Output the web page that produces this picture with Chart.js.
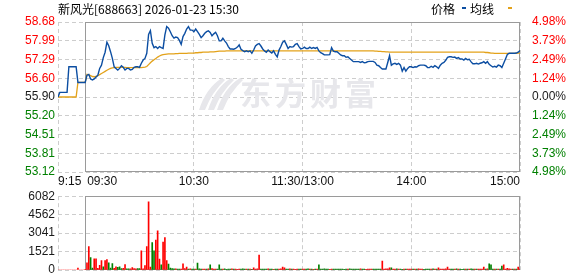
<!DOCTYPE html>
<html>
<head>
<meta charset="utf-8">
<script src="https://cdn.jsdelivr.net/npm/chart.js@4.4.1/dist/chart.umd.min.js"></script>
<style>
  body { margin: 0; background: #fff; overflow: hidden; }
  #wrap { position: relative; width: 578px; height: 276px; overflow: hidden; }
  #priceChart { position: absolute; left: 0; top: 0; }
  #volChart { position: absolute; left: 0; top: 186px; }
</style>
</head>
<body>
<div id="wrap">
  <canvas id="priceChart" width="578" height="192"></canvas>
  <canvas id="volChart" width="578" height="96"></canvas>
</div>
<script>
const title = '新风光[688663] 2026-01-23 15:30';
const legendNames = ['价格', '均线'];

// minute index: 0 = 9:15, 15 = 9:30, 135 = 11:30/13:00, 255 = 15:00
const timeTicks = [0, 15, 75, 135, 195, 255];
const timeLabels = ['9:15', '09:30', '10:30', '11:30/13:00', '14:00', '15:00'];

const priceTicks = ['58.68', '57.99', '57.29', '56.60', '55.90', '55.20', '54.51', '53.81', '53.12'];
const pctTicks = ['4.98%', '3.73%', '2.49%', '1.24%', '0.00%', '1.24%', '2.49%', '3.73%', '4.98%'];
const volTicks = ['6082', '4562', '3041', '1521', '0'];

// call auction 9:15 - 9:29
const auctionPrice = [55.90, 56.07, 56.07, 56.07, 56.07, 56.07, 57.02, 57.02, 57.02, 57.02, 57.02, 56.44, 56.44, 56.44, 56.44];
const auctionAvg = [55.90, 55.90, 55.90, 55.90, 55.90, 55.90, 55.90, 55.90, 55.90, 55.90, 55.90, 56.44, 56.44, 56.44, 56.44];
const auctionVolume = [0, 0, 0, 0, 0, 0, 0, 0, 0, 0, 0, 150, 0, 0, 0];

// 9:30 - 15:00, one value per minute
const price = [
  56.44, 56.71, 56.74, 56.57, 56.53, 56.57, 56.64, 56.71, 56.96, 57.08,
  57.36, 57.56, 57.93, 57.80, 57.58, 57.33, 57.02, 56.96, 56.90, 56.96,
  57.06, 57.00, 56.90, 56.96, 56.96, 56.90, 56.92, 57.00, 57.02, 57.02,
  57.00, 57.15, 57.27, 57.33, 57.52, 58.22, 58.36, 57.89, 57.73, 57.77,
  57.70, 57.77, 57.73, 57.70, 58.20, 58.51, 58.45, 58.32, 58.17, 58.08,
  58.12, 58.10, 58.00, 57.85, 58.14, 58.26, 58.42, 58.51, 58.38, 58.38,
  58.32, 58.42, 58.32, 58.22, 58.10, 58.17, 58.26, 58.32, 58.35, 58.29,
  58.17, 58.24, 58.30, 58.17, 57.98, 57.98, 58.08, 57.98, 57.90, 57.77,
  57.68, 57.68, 57.67, 57.70, 57.75, 57.83, 57.67, 57.62, 57.58, 57.61,
  57.58, 57.61, 57.52, 57.64, 57.79, 57.85, 57.88, 57.79, 57.68, 57.61,
  57.56, 57.64, 57.58, 57.53, 57.61, 57.48, 57.39, 57.64, 57.77, 57.93,
  57.98, 57.85, 57.70, 57.77, 57.75, 57.77, 57.85, 57.88, 57.77, 57.68,
  57.70, 57.75, 57.70, 57.70, 57.75, 57.70, 57.73, 57.70, 57.74, 57.61,
  57.54, 57.51, 57.46, 57.46, 57.46, 57.47, 57.73, 57.60, 57.58, 57.58,
  57.52, 57.46, 57.43, 57.43, 57.37, 57.39, 57.33, 57.27, 57.21, 57.21,
  57.21, 57.21, 57.18, 57.21, 57.17, 57.18, 57.21, 57.22, 57.22, 57.22,
  57.18, 57.08, 57.06, 56.99, 56.94, 56.94, 56.94, 57.18, 57.43, 57.08,
  57.13, 57.15, 57.11, 57.15, 57.08, 56.86, 56.99, 56.86, 56.96, 57.02,
  57.02, 56.99, 57.02, 57.01, 57.06, 57.08, 57.08, 57.08, 57.06, 56.99,
  56.99, 57.04, 57.00, 57.06, 57.02, 56.96, 57.08, 57.15, 57.18, 57.26,
  57.37, 57.39, 57.39, 57.37, 57.38, 57.33, 57.36, 57.31, 57.31, 57.27,
  57.33, 57.28, 57.30, 57.20, 57.13, 57.13, 57.15, 57.12, 57.15, 57.17,
  57.21, 57.15, 57.21, 57.11, 57.06, 57.01, 57.04, 57.01, 57.08, 57.06,
  56.99, 57.15, 57.31, 57.48, 57.52, 57.52, 57.52, 57.52, 57.53, 57.56,
  57.62
];

const avgPrice = [
  56.44, 56.74, 56.72, 56.69, 56.66, 56.65, 56.66, 56.69, 56.73, 56.77,
  56.81, 56.85, 56.89, 56.93, 56.96, 56.98, 56.99, 57.00, 57.00, 57.00,
  57.00, 57.00, 57.00, 56.99, 56.99, 56.99, 56.99, 56.99, 56.99, 56.99,
  56.99, 56.99, 57.00, 57.01, 57.03, 57.10, 57.17, 57.23, 57.28, 57.33,
  57.38, 57.42, 57.45, 57.47, 57.48, 57.49, 57.50, 57.50, 57.50, 57.50,
  57.51, 57.51, 57.52, 57.52, 57.52, 57.52, 57.52, 57.53, 57.53, 57.53,
  57.53, 57.54, 57.54, 57.55, 57.55, 57.56, 57.56, 57.56, 57.56, 57.57,
  57.57, 57.57, 57.58, 57.59, 57.60, 57.60, 57.60, 57.60, 57.61, 57.61,
  57.61, 57.61, 57.61, 57.61, 57.61, 57.61, 57.61, 57.61, 57.61, 57.61,
  57.61, 57.61, 57.61, 57.61, 57.61, 57.61, 57.61, 57.61, 57.61, 57.61,
  57.61, 57.61, 57.61, 57.61, 57.61, 57.61, 57.61, 57.61, 57.61, 57.61,
  57.61, 57.61, 57.61, 57.61, 57.61, 57.61, 57.61, 57.61, 57.61, 57.61,
  57.61, 57.61, 57.61, 57.61, 57.61, 57.61, 57.61, 57.61, 57.61, 57.61,
  57.61, 57.61, 57.61, 57.61, 57.61, 57.61, 57.61, 57.61, 57.61, 57.61,
  57.61, 57.61, 57.61, 57.61, 57.61, 57.61, 57.61, 57.61, 57.61, 57.61,
  57.61, 57.61, 57.61, 57.61, 57.61, 57.61, 57.61, 57.61, 57.61, 57.61,
  57.60, 57.60, 57.59, 57.59, 57.58, 57.58, 57.57, 57.57, 57.56, 57.56,
  57.56, 57.56, 57.56, 57.56, 57.56, 57.56, 57.56, 57.56, 57.56, 57.56,
  57.56, 57.56, 57.56, 57.56, 57.56, 57.56, 57.56, 57.56, 57.56, 57.56,
  57.56, 57.56, 57.56, 57.56, 57.56, 57.56, 57.56, 57.56, 57.56, 57.56,
  57.56, 57.56, 57.56, 57.56, 57.56, 57.56, 57.56, 57.56, 57.56, 57.56,
  57.56, 57.56, 57.56, 57.56, 57.56, 57.56, 57.56, 57.56, 57.56, 57.56,
  57.56, 57.55, 57.55, 57.54, 57.53, 57.53, 57.52, 57.52, 57.52, 57.52,
  57.52, 57.52, 57.52, 57.52, 57.52, 57.52, 57.52, 57.52, 57.52, 57.53,
  57.53
];

const volume = [
  60, 600, 1930, 1020, 150, 920, 920, 130, 380, 780,
  260, 780, 850, 590, 150, 520, 130, 270, 220, 270,
  110, 130, 440, 90, 90, 90, 200, 110, 90, 110,
  110, 1580, 90, 360, 1920, 5620, 250, 2260, 1580, 2460,
  3220, 900, 420, 2300, 2670, 780, 480, 150, 110, 90,
  90, 80, 80, 80, 500, 110, 250, 80, 90, 80,
  80, 80, 580, 90, 80, 80, 70, 80, 90, 420,
  120, 80, 70, 80, 420, 80, 70, 90, 60, 80,
  70, 90, 70, 80, 60, 80, 70, 90, 70, 80,
  70, 80, 60, 170, 80, 90, 1230, 80, 70, 80,
  70, 90, 70, 80, 60, 80, 70, 80, 90, 250,
  170, 80, 70, 90, 70, 80, 60, 80, 70, 80,
  70, 80, 70, 90, 70, 80, 60, 80, 70, 420,
  80, 70, 90, 70, 80, 60, 80, 70, 80, 70,
  80, 70, 80, 60, 80, 70, 90, 70, 80, 70,
  80, 70, 90, 70, 80, 60, 80, 70, 80, 70,
  80, 70, 80, 70, 740, 80, 90, 100, 170, 170,
  80, 70, 90, 70, 80, 60, 80, 70, 80, 70,
  80, 70, 80, 70, 90, 70, 80, 60, 80, 70,
  80, 70, 90, 70, 80, 170, 80, 70, 80, 90,
  250, 80, 70, 80, 70, 90, 70, 80, 60, 80,
  70, 80, 70, 90, 70, 80, 70, 80, 70, 80,
  250, 80, 90, 500, 420, 80, 70, 80, 70, 80,
  330, 420, 80, 130, 90, 80, 70, 80, 70, 250,
  80
];
// u = traded up (red), d = traded down (green), one char per minute
const volSide =
  'uuudduuuuu' + 'duuddduudd' + 'duudduuuud' + 'duuuuuuddu' + 'uuduuudddd' +
  'udduuuudud' + 'duddduudud' + 'uuudddud' + 'dd' + 'duduuudddu' + 'duduuuuddd' +
  'duddudduuu' + 'udduduuudd' + 'uuddududud' + 'ddddduuddd' + 'dddddudddd' +
  'ddudduuuud' + 'dddduuuuud' + 'uududduduu' + 'ududuuuddd' + 'dududuuuuu' +
  'uuddududdd' + 'ududduduuu' + 'ududddudud' + 'duuuuududu' + 'u';

const SANS = '"Liberation Sans", Arial, sans-serif';
const CJK = '"Noto Sans CJK SC", sans-serif';
const RED = '#ff0000';
const GREEN = '#008000';
const DARK = '#1a1a1a';
const GRID = '#cdcdcd';
const FRAME = '#9a9a9a';
const BLUE = '#0c4ea2';
const GOLD = '#e3a21a';

const yMax = +priceTicks[0];
const yMin = +priceTicks[priceTicks.length - 1];
const vMax = +volTicks[0];

const toPoints = (pre, day) => pre.concat(day).map((v, k) => ({ x: k, y: v }));

const volColors = auctionVolume.map(() => RED)
  .concat(volume.map((v, k) => volSide[k] === 'd' ? GREEN : RED));

// ticks evenly spread between min and max, labels taken from a top-to-bottom list
function fixedTicks(labels, min, max) {
  const n = labels.length - 1;
  return scale => {
    scale.ticks = labels.map((_, k) => ({ value: min + (max - min) * k / n }));
  };
}

function sideColor(k, mid) {
  if (k > mid) return RED;
  if (k < mid) return GREEN;
  return DARK;
}

function timeScale(height) {
  return {
    type: 'linear',
    min: 0,
    max: timeTicks[timeTicks.length - 1],
    offset: false,
    afterBuildTicks: s => { s.ticks = timeTicks.map(v => ({ value: v })); },
    afterFit: s => { s.height = height; },
    ticks: { display: false },
    grid: { color: GRID, drawTicks: false, offset: false },
    border: { display: false, dash: [4, 3] }
  };
}

// solid box around the trading session (9:30 - 15:00)
const framePlugin = {
  id: 'frame',
  beforeDatasetsDraw(chart) {
    const { ctx, chartArea: a, scales: { x } } = chart;
    const l = Math.round(x.getPixelForValue(timeTicks[1])) + 0.5;
    const r = Math.round(x.getPixelForValue(timeTicks[timeTicks.length - 1])) - 0.5;
    const t = Math.round(a.top) + 0.5;
    const b = Math.round(a.bottom) - 0.5;
    ctx.save();
    ctx.strokeStyle = FRAME;
    ctx.lineWidth = 1;
    ctx.strokeRect(l, t, r - l, b - t);
    ctx.restore();
  }
};

const watermarkPlugin = {
  id: 'watermark',
  beforeDatasetsDraw(chart) {
    const ctx = chart.ctx;
    ctx.save();
    ctx.fillStyle = '#e7e7eb';
    // swoosh logo
    for (let k = 0; k < 3; k++) {
      const dx = k * 9;
      ctx.beginPath();
      ctx.moveTo(199 + dx, 110);
      ctx.quadraticCurveTo(206 + dx, 88, 222 + dx, 78);
      ctx.lineTo(225 + dx, 80);
      ctx.quadraticCurveTo(212 + dx, 92, 205 + dx, 110);
      ctx.closePath();
      ctx.fill();
    }
    ctx.font = 'bold 31px ' + CJK;
    ctx.textBaseline = 'middle';
    ['东', '方', '财', '富'].forEach((c, k) => ctx.fillText(c, 240 + k * 35, 93));
    ctx.restore();
  }
};

const headerPlugin = {
  id: 'header',
  afterDraw(chart) {
    const ctx = chart.ctx;
    ctx.save();
    ctx.font = '12px ' + CJK;
    ctx.fillStyle = '#000';
    ctx.textBaseline = 'middle';
    ctx.fillText(title, 58, 9);
    ctx.fillText(legendNames[0], 431, 9);
    ctx.fillText(legendNames[1], 470, 9);
    ctx.fillStyle = BLUE;
    ctx.fillRect(462, 7, 4, 2);
    ctx.fillStyle = GOLD;
    ctx.fillRect(508, 7, 4, 2);
    ctx.restore();
  }
};

const timeLabelPlugin = {
  id: 'timeLabels',
  afterDraw(chart) {
    const { ctx, chartArea: a, scales: { x } } = chart;
    const last = timeTicks.length - 1;
    ctx.save();
    ctx.font = '12px ' + SANS;
    ctx.fillStyle = '#111';
    ctx.textBaseline = 'middle';
    timeTicks.forEach((v, k) => {
      let px = x.getPixelForValue(v);
      if (k === 0) ctx.textAlign = 'left';
      else if (k === 1) { ctx.textAlign = 'left'; px += 2; }
      else if (k === last) ctx.textAlign = 'right';
      else ctx.textAlign = 'center';
      ctx.fillText(timeLabels[k], px, a.bottom + 10);
    });
    ctx.restore();
  }
};

const axisFont = { family: SANS, size: 12 };

new Chart(document.getElementById('priceChart'), {
  type: 'line',
  data: {
    datasets: [
      { data: toPoints(auctionPrice, price), borderColor: BLUE, borderWidth: 1.4, pointRadius: 0 },
      { data: toPoints(auctionAvg, avgPrice), borderColor: GOLD, borderWidth: 1.3, pointRadius: 0 }
    ]
  },
  options: {
    responsive: false,
    animation: false,
    devicePixelRatio: 1,
    layout: { padding: { top: 22 } },
    plugins: { legend: { display: false }, tooltip: { enabled: false } },
    scales: {
      x: timeScale(20),
      y: {
        position: 'left',
        min: yMin,
        max: yMax,
        afterBuildTicks: fixedTicks(priceTicks, yMin, yMax),
        afterFit: s => { s.width = 58; },
        ticks: {
          autoSkip: false,
          padding: 3,
          font: axisFont,
          color: c => sideColor(c.index, 4),
          callback: (v, k) => priceTicks[priceTicks.length - 1 - k]
        },
        grid: { color: GRID, drawTicks: false },
        border: { display: false, dash: [4, 3] }
      },
      yr: {
        position: 'right',
        min: yMin,
        max: yMax,
        afterBuildTicks: fixedTicks(pctTicks, yMin, yMax),
        afterFit: s => { s.width = 58; },
        ticks: {
          autoSkip: false,
          padding: 4,
          font: axisFont,
          color: c => sideColor(c.index, 4),
          callback: (v, k) => pctTicks[pctTicks.length - 1 - k]
        },
        grid: { display: false },
        border: { display: false }
      }
    }
  },
  plugins: [watermarkPlugin, framePlugin, headerPlugin, timeLabelPlugin]
});

new Chart(document.getElementById('volChart'), {
  type: 'bar',
  data: {
    datasets: [{
      data: toPoints(auctionVolume, volume),
      backgroundColor: volColors,
      barThickness: 1
    }]
  },
  options: {
    responsive: false,
    animation: false,
    devicePixelRatio: 1,
    layout: { padding: { top: 10, right: 58 } },
    plugins: { legend: { display: false }, tooltip: { enabled: false } },
    scales: {
      x: timeScale(12),
      y: {
        min: 0,
        max: vMax,
        afterBuildTicks: fixedTicks(volTicks, 0, vMax),
        afterFit: s => { s.width = 58; },
        ticks: {
          autoSkip: false,
          padding: 3,
          font: axisFont,
          color: DARK,
          callback: (v, k) => volTicks[volTicks.length - 1 - k]
        },
        grid: { color: GRID, drawTicks: false },
        border: { display: false, dash: [4, 3] }
      }
    }
  },
  plugins: [framePlugin]
});
</script>
</body>
</html>
